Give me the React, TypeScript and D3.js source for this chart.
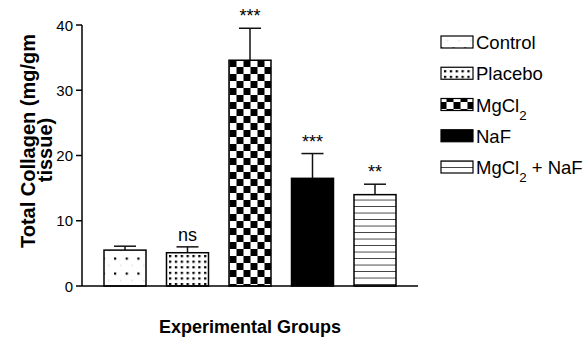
import * as d3 from 'd3';

const groups = ['Control', 'Placebo', 'MgCl2', 'NaF', 'MgCl2 + NaF'];
const means = [5.5, 5.1, 34.6, 16.5, 14.0];
const upperErr = [0.6, 0.9, 4.9, 3.8, 1.6];
const sigLabels = ['', 'ns', '***', '***', '**'];
const yTicks = [0, 10, 20, 30, 40];
const fills = ['url(#pCtrl)', 'url(#pPlac)', 'url(#pChk)', '#000', 'url(#pLines)'];

const W = 585, H = 341;
const FONT = '"Liberation Sans", Arial, sans-serif';

// renders "Cl2" with a subscript 2
function Label({ text }: { text: string }) {
  const parts = text.split(/(Cl2)/);
  return (
    <>
      {parts.map((p, i) =>
        p === 'Cl2'
          ? <tspan key={i}>Cl<tspan baselineShift="sub" fontSize="0.72em">2</tspan></tspan>
          : <tspan key={i}>{p}</tspan>
      )}
    </>
  );
}

export default function App() {
  const y = d3.scaleLinear().domain([0, 40]).range([286, 25]);
  const x = d3.scaleBand<string>().domain(groups).range([82, 418])
    .paddingInner(0.328).paddingOuter(0.352);
  const bw = x.bandwidth();
  const legY = d3.scalePoint<string>().domain(groups).range([42, 167]);

  return (
    <svg width={W} height={H} style={{ position: 'absolute', left: 0, top: 0, background: '#fff' }}
      fontFamily={FONT}>
      <defs>
        <pattern id="pCtrl" patternUnits="userSpaceOnUse" width={11.67} height={15}
          patternTransform="translate(114,257.5)">
          <rect width={11.67} height={15} fill="#fff" />
          <rect x={0} y={0} width={2.2} height={2.2} fill="#000" />
          <rect x={6} y={7.5} width={1.2} height={1.2} fill="#ccc" />
        </pattern>
        <pattern id="pPlac" patternUnits="userSpaceOnUse" width={5.85} height={5.6}
          patternTransform="translate(169,255)">
          <rect width={5.85} height={5.6} fill="#fff" />
          <rect x={0} y={0} width={2.3} height={2.2} fill="#000" />
        </pattern>
        <pattern id="pChk" patternUnits="userSpaceOnUse" width={14} height={14}
          patternTransform="translate(229.5,60)">
          <rect width={14} height={14} fill="#fff" />
          <rect x={0} y={0} width={7} height={7} fill="#000" />
          <rect x={7} y={7} width={7} height={7} fill="#000" />
        </pattern>
        <pattern id="pLines" patternUnits="userSpaceOnUse" width={10} height={6.5}
          patternTransform="translate(0,194)">
          <rect width={10} height={6.5} fill="#fff" />
          <rect x={0} y={5.8} width={10} height={1.2} fill="#000" />
        </pattern>
      </defs>

      {/* bars */}
      {groups.map((g, i) => {
        const x0 = x(g)!;
        const top = y(means[i]);
        const cap = y(means[i] + upperErr[i]);
        const cx = x0 + bw / 2;
        return (
          <g key={g}>
            <line x1={cx} x2={cx} y1={top} y2={cap} stroke="#111" strokeWidth={1.5} />
            <line x1={cx - 11} x2={cx + 11} y1={cap} y2={cap} stroke="#111" strokeWidth={1.5} />
            <rect x={x0} y={top} width={bw} height={y(0) - top} fill={fills[i]}
              stroke="#000" strokeWidth={1.5} />
            {sigLabels[i] && (
              <text x={cx} y={cap - 6} textAnchor="middle" fontSize={18} fill="#000">
                {sigLabels[i]}
              </text>
            )}
          </g>
        );
      })}

      {/* axes */}
      <line x1={82} x2={82} y1={y(40)} y2={y(0)} stroke="#000" strokeWidth={1.5} />
      <line x1={82} x2={418} y1={y(0)} y2={y(0)} stroke="#000" strokeWidth={1.5} />
      {yTicks.map(t => (
        <g key={t}>
          <line x1={76} x2={82} y1={y(t)} y2={y(t)} stroke="#000" strokeWidth={1.5} />
          <text x={73} y={y(t) + 5.5} textAnchor="end" fontSize={15} fill="#000">{t}</text>
        </g>
      ))}

      {/* axis titles */}
      <text transform="translate(34.5,141) rotate(-90)" textAnchor="middle" fontSize={20}
        fontWeight="bold" fill="#000">Total Collagen (mg/gm</text>
      <text transform="translate(52,150) rotate(-90)" textAnchor="middle" fontSize={20}
        fontWeight="bold" fill="#000">tissue)</text>
      <text x={250} y={333} textAnchor="middle" fontSize={18} fontWeight="bold" fill="#000">
        Experimental Groups
      </text>

      {/* legend */}
      {groups.map((g, i) => {
        const cy = legY(g)!;
        return (
          <g key={g}>
            <rect x={441} y={cy - 6} width={32} height={12} fill={fills[i]} stroke="#000"
              strokeWidth={1.2} />
            <text x={476} y={cy + 7} fontSize={18.5} fill="#000"><Label text={g} /></text>
          </g>
        );
      })}
    </svg>
  );
}
